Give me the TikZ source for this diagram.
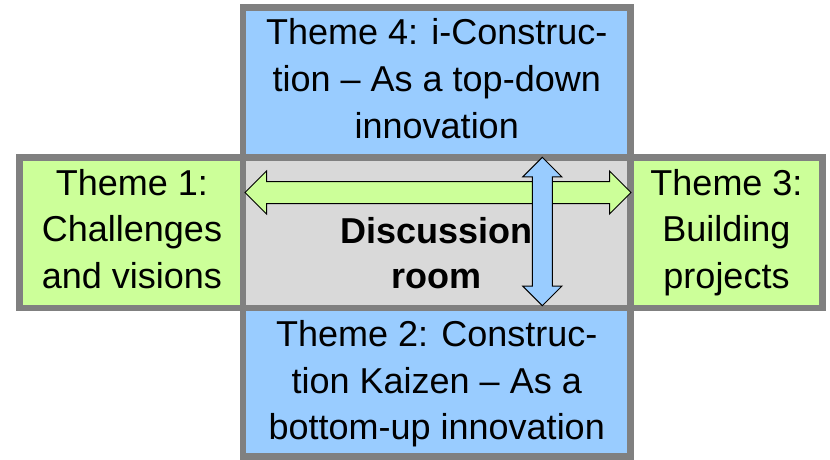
\documentclass[tikz,border=0pt]{standalone}
\usepackage{fontspec}
\setmainfont{Liberation Sans}
\definecolor{bluefill}{HTML}{99CCFF}
\definecolor{greenfill}{HTML}{CCFF99}
\definecolor{roomfill}{HTML}{D9D9D9}
\definecolor{framegray}{HTML}{808080}
\begin{document}
\begin{tikzpicture}[x=1pt,y=-1pt,
  box/.style={draw=framegray, line width=6.5pt, line join=miter},
  txt/.style={anchor=base, inner sep=0pt, font=\fontsize{36}{46.7}\selectfont},
  blockarrow/.style={draw=black, line width=1pt, line join=miter}]
\useasboundingbox (0,0) rectangle (830,459);
% boxes
\draw[box, fill=bluefill]  (243,7.5) rectangle (630.5,157.5);
\draw[box, fill=greenfill] (19.5,157.5) rectangle (243,308);
\draw[box, fill=roomfill]  (243,157.5) rectangle (630.5,308);
\draw[box, fill=greenfill] (630.5,157.5) rectangle (822.5,308);
\draw[box, fill=bluefill]  (243,308) rectangle (630.5,456.5);
% texts
\node[txt, font=\fontsize{36}{47.2}\selectfont] (t4) at (436.75,44) {\begin{tabular}[t]{@{}c@{}}Theme 4: i-Construc-\\ tion -- As a top-down\\ innovation\end{tabular}};
\node[txt] (t1) at (132,195) {\begin{tabular}[t]{@{}c@{}}Theme 1:\\ Challenges\\ and visions\end{tabular}};
\node[txt] (t3) at (726.5,195) {\begin{tabular}[t]{@{}c@{}}Theme 3:\\ Building\\ projects\end{tabular}};
\node[txt] (t2) at (436.75,346.5) {\begin{tabular}[t]{@{}c@{}}Theme 2: Construc-\\ tion Kaizen -- As a\\ bottom-up innovation\end{tabular}};
\node[txt, font=\fontsize{36}{45}\selectfont\bfseries] (room) at (436.75,243.3) {\begin{tabular}[t]{@{}c@{}}Discussion\\ room\end{tabular}};
% block arrows
\filldraw[blockarrow, fill=greenfill] (245,192.5) -- (266.5,171) -- (266.5,181.5) -- (609.5,181.5) -- (609.5,171) -- (631,192.5) -- (609.5,214) -- (609.5,203.5) -- (266.5,203.5) -- (266.5,214) -- cycle;
\filldraw[blockarrow, fill=bluefill] (542.3,157.3) -- (561.8,176.8) -- (552.3,176.8) -- (552.3,286.2) -- (561.8,286.2) -- (542.3,305.7) -- (522.8,286.2) -- (532.3,286.2) -- (532.3,176.8) -- (522.8,176.8) -- cycle;
\end{tikzpicture}
\end{document}
